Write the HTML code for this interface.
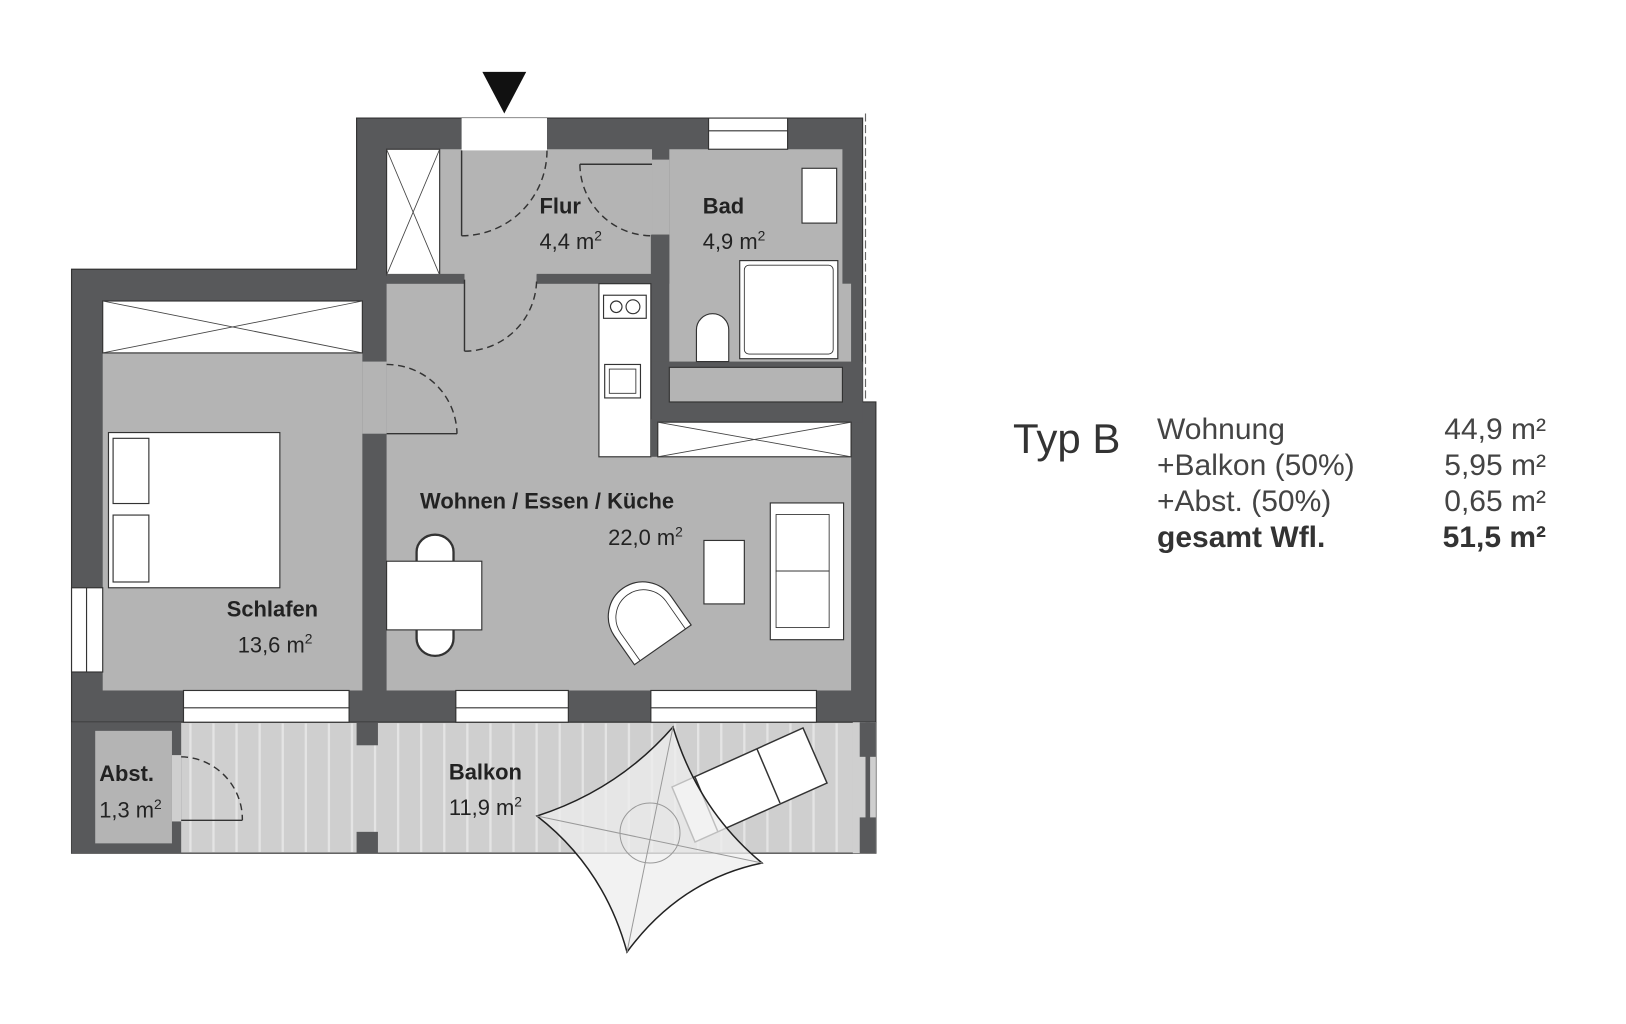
<!DOCTYPE html>
<html><head><meta charset="utf-8"><style>
html,body{margin:0;padding:0;background:#fff;width:1626px;height:1024px;overflow:hidden}
svg{display:block}
text{font-family:"Liberation Sans",sans-serif}
</style></head><body>
<svg width="1626" height="1024" viewBox="0 0 1626 1024" xmlns="http://www.w3.org/2000/svg">
<g transform="translate(0,50) scale(0.5770)">
<polygon points="618,118 1495,118 1495,610 1518,610 1518,1165 124,1165 124,380 618,380" fill="#58595b" stroke="#333" stroke-width="2"/>
<rect x="124" y="1165" width="1394" height="227" fill="#cfcfcf" stroke="#333" stroke-width="2"/>
<g stroke="#e4e4e4" stroke-width="4">
<line x1="330" y1="1167" x2="330" y2="1390"/><line x1="370" y1="1167" x2="370" y2="1390"/><line x1="410" y1="1167" x2="410" y2="1390"/><line x1="450" y1="1167" x2="450" y2="1390"/><line x1="490" y1="1167" x2="490" y2="1390"/><line x1="530" y1="1167" x2="530" y2="1390"/><line x1="570" y1="1167" x2="570" y2="1390"/><line x1="610" y1="1167" x2="610" y2="1390"/><line x1="650" y1="1167" x2="650" y2="1390"/><line x1="690" y1="1167" x2="690" y2="1390"/><line x1="730" y1="1167" x2="730" y2="1390"/><line x1="770" y1="1167" x2="770" y2="1390"/><line x1="810" y1="1167" x2="810" y2="1390"/><line x1="850" y1="1167" x2="850" y2="1390"/><line x1="890" y1="1167" x2="890" y2="1390"/><line x1="930" y1="1167" x2="930" y2="1390"/><line x1="970" y1="1167" x2="970" y2="1390"/><line x1="1010" y1="1167" x2="1010" y2="1390"/><line x1="1050" y1="1167" x2="1050" y2="1390"/><line x1="1090" y1="1167" x2="1090" y2="1390"/><line x1="1130" y1="1167" x2="1130" y2="1390"/><line x1="1170" y1="1167" x2="1170" y2="1390"/><line x1="1210" y1="1167" x2="1210" y2="1390"/><line x1="1250" y1="1167" x2="1250" y2="1390"/><line x1="1290" y1="1167" x2="1290" y2="1390"/><line x1="1330" y1="1167" x2="1330" y2="1390"/><line x1="1370" y1="1167" x2="1370" y2="1390"/><line x1="1410" y1="1167" x2="1410" y2="1390"/><line x1="1450" y1="1167" x2="1450" y2="1390"/>
</g>
<rect x="124" y="1165" width="190" height="227" fill="#58595b"/>
<rect x="165" y="1180" width="133" height="195" fill="#b4b4b4"/>
<rect x="298" y="1222" width="16" height="115" fill="#cfcfcf"/>
<rect x="618" y="1165" width="37" height="40" fill="#58595b"/>
<rect x="618" y="1355" width="37" height="37" fill="#58595b"/>
<rect x="1478" y="1165" width="40" height="227" fill="#cfcfcf"/>
<rect x="1490" y="1165" width="28" height="60" fill="#58595b"/>
<rect x="1490" y="1330" width="28" height="62" fill="#58595b"/>
<rect x="1500" y="1165" width="8" height="227" fill="#58595b"/>
<rect x="762" y="172" width="368" height="218" fill="#b4b4b4"/>
<rect x="1130" y="190" width="30" height="130" fill="#b4b4b4"/>
<rect x="1160" y="172" width="300" height="368" fill="#b4b4b4"/>
<rect x="670" y="172" width="92" height="218" fill="#fff" stroke="#333" stroke-width="2"/>
<line x1="670" y1="172" x2="762" y2="390" stroke="#444" stroke-width="1.5"/><line x1="762" y1="172" x2="670" y2="390" stroke="#444" stroke-width="1.5"/>
<rect x="805" y="388" width="125" height="20" fill="#b4b4b4"/>
<rect x="670" y="405" width="805" height="705" fill="#b4b4b4"/>
<rect x="670" y="388" width="135" height="17" fill="#58595b"/>
<rect x="930" y="388" width="200" height="17" fill="#58595b"/>
<rect x="1128" y="320" width="32" height="325" fill="#58595b"/>
<rect x="1128" y="540" width="367" height="105" fill="#58595b"/>
<rect x="1160" y="550" width="300" height="60" fill="#b4b4b4" stroke="#333" stroke-width="2"/>
<rect x="1038" y="405" width="90" height="300" fill="#fff" stroke="#333" stroke-width="2"/>
<rect x="1128" y="640" width="12" height="65" fill="#58595b"/>
<rect x="1140" y="645" width="335" height="60" fill="#fff" stroke="#333" stroke-width="2"/>
<line x1="1140" y1="645" x2="1475" y2="705" stroke="#444" stroke-width="1.5"/><line x1="1475" y1="645" x2="1140" y2="705" stroke="#444" stroke-width="1.5"/>
<rect x="1046" y="425" width="74" height="40" fill="#fff" stroke="#333" stroke-width="2"/>
<circle cx="1068" cy="445" r="10" fill="none" stroke="#333" stroke-width="2"/><circle cx="1097" cy="445" r="12" fill="none" stroke="#333" stroke-width="2"/>
<rect x="1048" y="545" width="62" height="58" fill="#fff" stroke="#333" stroke-width="2"/>
<rect x="1056" y="553" width="46" height="42" fill="none" stroke="#333" stroke-width="1.5"/>
<rect x="178" y="525" width="450" height="585" fill="#b4b4b4"/>
<rect x="178" y="435" width="450" height="90" fill="#fff" stroke="#333" stroke-width="2"/>
<line x1="178" y1="435" x2="628" y2="525" stroke="#444" stroke-width="1.5"/><line x1="628" y1="435" x2="178" y2="525" stroke="#444" stroke-width="1.5"/>
<rect x="628" y="540" width="42" height="125" fill="#b4b4b4"/>
<rect x="800" y="118" width="148" height="56" fill="#fff"/>
<rect x="1228" y="118" width="137" height="54" fill="#fff" stroke="#333" stroke-width="2"/>
<rect x="124" y="932" width="54" height="146" fill="#fff" stroke="#333" stroke-width="2"/>
<rect x="318" y="1110" width="287" height="55" fill="#fff" stroke="#333" stroke-width="2"/>
<rect x="790" y="1110" width="195" height="55" fill="#fff" stroke="#333" stroke-width="2"/>
<rect x="1128" y="1110" width="287" height="55" fill="#fff" stroke="#333" stroke-width="2"/>
<g stroke="#333" stroke-width="2" fill="none">
<line x1="318" y1="1140" x2="605" y2="1140"/><line x1="790" y1="1140" x2="985" y2="1140"/><line x1="1128" y1="1140" x2="1415" y2="1140"/>
<line x1="1228" y1="140" x2="1365" y2="140"/><line x1="150" y1="932" x2="150" y2="1078"/>
</g>
<g fill="none" stroke="#333" stroke-width="2.5" stroke-dasharray="12,8">
<path d="M800,322 A148,148 0 0 0 948,174"/>
<path d="M1005,198 A125,125 0 0 0 1130,322"/>
<path d="M805,522 A125,125 0 0 0 930,398"/>
<path d="M670,545 A122,122 0 0 1 792,665"/>
<path d="M314,1225 A108,108 0 0 1 420,1335"/>
</g>
<g stroke="#333" stroke-width="2.5"><line x1="800" y1="174" x2="800" y2="322"/><line x1="1005" y1="198" x2="1130" y2="198"/><line x1="805" y1="398" x2="805" y2="522"/><line x1="670" y1="665" x2="792" y2="665"/><line x1="314" y1="1335" x2="420" y2="1335"/></g>
<rect x="1390" y="205" width="60" height="95" fill="#fff" stroke="#333" stroke-width="2"/>
<rect x="1282" y="365" width="170" height="170" fill="#fff" stroke="#333" stroke-width="2"/>
<rect x="1290" y="373" width="154" height="154" rx="8" fill="none" stroke="#333" stroke-width="1.5"/>
<path d="M1207,540 L1207,485 A28,28 0 0 1 1263,485 L1263,540 Z" fill="#fff" stroke="#333" stroke-width="2"/>
<rect x="188" y="663" width="297" height="269" fill="#fff" stroke="#333" stroke-width="2"/>
<rect x="196" y="673" width="62" height="113" fill="#fff" stroke="#333" stroke-width="2"/>
<rect x="196" y="806" width="62" height="116" fill="#fff" stroke="#333" stroke-width="2"/>
<path d="M722,886 L722,870 A32,30 0 0 1 786,870 L786,886" fill="#fff" stroke="#333" stroke-width="4"/>
<path d="M722,1005 L722,1020 A32,30 0 0 0 786,1020 L786,1005" fill="#fff" stroke="#333" stroke-width="4"/>
<rect x="670" y="886" width="165" height="119" fill="#fff" stroke="#333" stroke-width="2"/>
<rect x="1335" y="785" width="127" height="237" fill="#fff" stroke="#333" stroke-width="2"/>
<rect x="1345" y="805" width="92" height="98" fill="none" stroke="#333" stroke-width="1.5"/>
<rect x="1345" y="903" width="92" height="98" fill="none" stroke="#333" stroke-width="1.5"/>
<rect x="1220" y="850" width="70" height="110" fill="#fff" stroke="#333" stroke-width="2"/>
<g transform="rotate(-35 1120 990)">
<path d="M1060,1040 L1060,980 A60,60 0 0 1 1180,980 L1180,1040 Z" fill="#fff" stroke="#333" stroke-width="2"/>
<path d="M1072,1040 L1072,982 A48,48 0 0 1 1168,982 L1168,1040" fill="none" stroke="#333" stroke-width="1.5"/>
</g>
<g fill="#222" font-size="38">
<text x="935" y="283" font-weight="bold">Flur</text>
<text x="935" y="345">4,4 m<tspan font-size="24" dy="-15">2</tspan></text>
<text x="1218" y="283" font-weight="bold">Bad</text>
<text x="1218" y="345">4,9 m<tspan font-size="24" dy="-15">2</tspan></text>
<text x="728" y="795" font-weight="bold">Wohnen / Essen / Küche</text>
<text x="1054" y="858">22,0 m<tspan font-size="24" dy="-15">2</tspan></text>
<text x="393" y="982" font-weight="bold">Schlafen</text>
<text x="412" y="1044">13,6 m<tspan font-size="24" dy="-15">2</tspan></text>
<text x="172" y="1267" font-weight="bold">Abst.</text>
<text x="172" y="1330">1,3 m<tspan font-size="24" dy="-15">2</tspan></text>
<text x="778" y="1264" font-weight="bold">Balkon</text>
<text x="778" y="1326">11,9 m<tspan font-size="24" dy="-15">2</tspan></text>
</g>
<polygon points="836,38 912,38 874,110" fill="#111"/>
<line x1="1500" y1="110" x2="1500" y2="610" stroke="#666" stroke-width="2" stroke-dasharray="14,6"/>
</g>
<polygon points="672,787 803,728 827,783 695,842" fill="#fff" stroke="#333" stroke-width="1.5"/>
<line x1="757" y1="749" x2="780" y2="803" stroke="#333" stroke-width="1.5"/>
<line x1="695" y1="777" x2="718" y2="832" stroke="#333" stroke-width="1.5"/>
<path d="M673,727 Q698,810 762,863 Q680,880 627,952 Q604,868 537,816 Q618,790 673,727 Z" fill="#eeeeee" fill-opacity="0.75" stroke="#222" stroke-width="1.5"/>
<g stroke="#999" stroke-width="1" fill="none">
<line x1="673" y1="727" x2="627" y2="952"/><line x1="537" y1="816" x2="762" y2="863"/>
<circle cx="650" cy="833" r="30"/>
</g>
<text x="1013" y="453" font-size="42" fill="#333">Typ B</text>
<g font-size="30" fill="#444">
<text x="1157" y="439">Wohnung</text>
<text x="1157" y="475">+Balkon (50%)</text>
<text x="1157" y="511">+Abst. (50%)</text>
<text x="1157" y="547" font-weight="bold" fill="#333">gesamt Wfl.</text>
</g>
<g font-size="30" fill="#444" text-anchor="end">
<text x="1546" y="439">44,9 m²</text>
<text x="1546" y="475">5,95 m²</text>
<text x="1546" y="511">0,65 m²</text>
<text x="1546" y="547" font-weight="bold" fill="#333">51,5 m²</text>
</g>
</svg>
</body></html>
